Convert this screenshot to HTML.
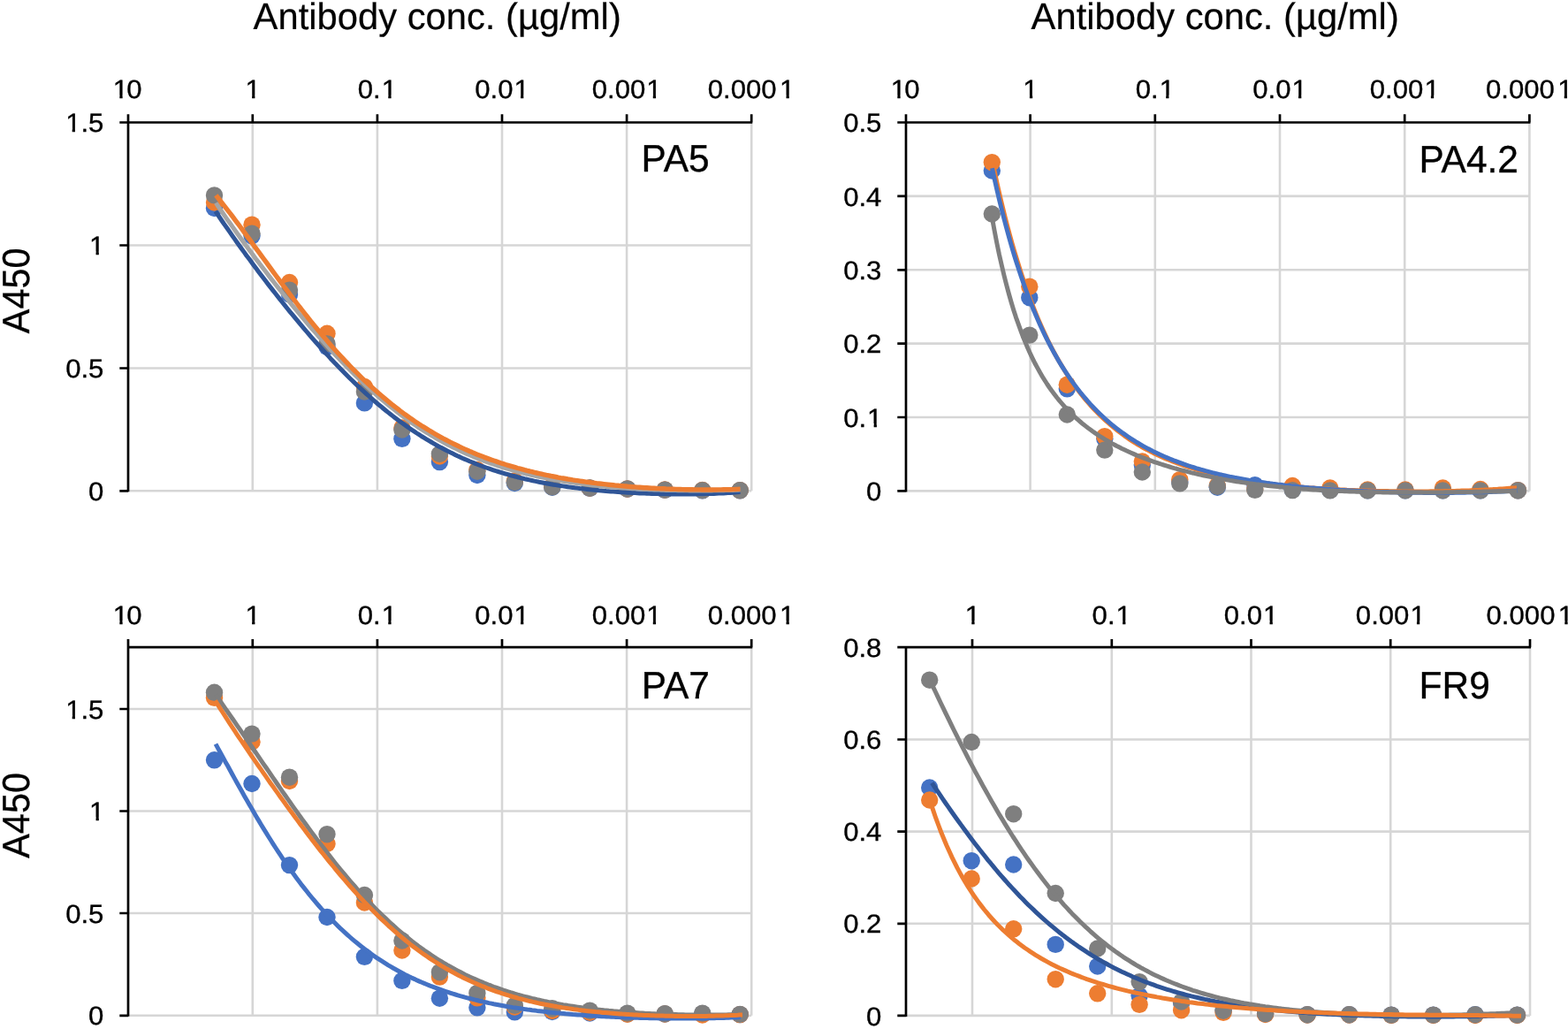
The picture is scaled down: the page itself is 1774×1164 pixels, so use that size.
<!DOCTYPE html>
<html lang="en"><head><meta charset="utf-8"><title>ELISA titration curves</title>
<style>html,body{margin:0;padding:0;background:#fff}body{width:1774px;height:1164px;overflow:hidden}svg{display:block}text{font-family:"Liberation Sans", sans-serif;fill:#000;text-rendering:geometricPrecision}.t{font-size:29.5px;stroke:#000;stroke-width:.35px}.h{font-size:43.2px;stroke:#000;stroke-width:.35px}.g{font-size:42.2px;stroke:#000;stroke-width:.2px}</style></head><body>
<svg width="1774" height="1164" viewBox="0 0 1774 1164">
<rect width="1774" height="1164" fill="#fff"/>
<g>
<path d="M285.8,138.5V555.3M426.9,138.5V555.3M568.0,138.5V555.3M709.1,138.5V555.3M850.2,138.5V555.3M145.0,555.3H850.2M145.0,416.5H850.2M145.0,277.5H850.2" stroke="#D6D6D6" stroke-width="2.6" fill="none"/>
<circle cx="242.5" cy="235.5" r="9.7" fill="#4472C4"/>
<circle cx="285.0" cy="266.8" r="9.7" fill="#4472C4"/>
<circle cx="327.5" cy="332.9" r="9.7" fill="#4472C4"/>
<circle cx="370.0" cy="392.3" r="9.7" fill="#4472C4"/>
<circle cx="412.4" cy="455.9" r="9.7" fill="#4472C4"/>
<circle cx="454.9" cy="496.3" r="9.7" fill="#4472C4"/>
<circle cx="497.4" cy="522.6" r="9.7" fill="#4472C4"/>
<circle cx="539.9" cy="537.5" r="9.7" fill="#4472C4"/>
<circle cx="582.3" cy="546.5" r="9.7" fill="#4472C4"/>
<circle cx="624.8" cy="551.2" r="9.7" fill="#4472C4"/>
<circle cx="667.3" cy="552.3" r="9.7" fill="#4472C4"/>
<circle cx="709.8" cy="553.2" r="9.7" fill="#4472C4"/>
<circle cx="752.2" cy="554.3" r="9.7" fill="#4472C4"/>
<circle cx="794.7" cy="554.8" r="9.7" fill="#4472C4"/>
<circle cx="837.2" cy="554.8" r="9.7" fill="#4472C4"/>
<circle cx="242.5" cy="229.0" r="9.7" fill="#ED7D31"/>
<circle cx="285.0" cy="254.2" r="9.7" fill="#ED7D31"/>
<circle cx="327.5" cy="319.5" r="9.7" fill="#ED7D31"/>
<circle cx="370.0" cy="377.3" r="9.7" fill="#ED7D31"/>
<circle cx="412.4" cy="437.5" r="9.7" fill="#ED7D31"/>
<circle cx="454.9" cy="484.0" r="9.7" fill="#ED7D31"/>
<circle cx="497.4" cy="516.0" r="9.7" fill="#ED7D31"/>
<circle cx="539.9" cy="531.5" r="9.7" fill="#ED7D31"/>
<circle cx="582.3" cy="544.0" r="9.7" fill="#ED7D31"/>
<circle cx="624.8" cy="550.0" r="9.7" fill="#ED7D31"/>
<circle cx="667.3" cy="552.0" r="9.7" fill="#ED7D31"/>
<circle cx="709.8" cy="553.0" r="9.7" fill="#ED7D31"/>
<circle cx="752.2" cy="554.0" r="9.7" fill="#ED7D31"/>
<circle cx="794.7" cy="554.5" r="9.7" fill="#ED7D31"/>
<circle cx="837.2" cy="554.6" r="9.7" fill="#ED7D31"/>
<circle cx="242.5" cy="220.9" r="9.7" fill="#7F7F7F"/>
<circle cx="285.0" cy="264.2" r="9.7" fill="#7F7F7F"/>
<circle cx="327.5" cy="328.1" r="9.7" fill="#7F7F7F"/>
<circle cx="370.0" cy="388.9" r="9.7" fill="#7F7F7F"/>
<circle cx="412.4" cy="443.0" r="9.7" fill="#7F7F7F"/>
<circle cx="454.9" cy="486.0" r="9.7" fill="#7F7F7F"/>
<circle cx="497.4" cy="513.5" r="9.7" fill="#7F7F7F"/>
<circle cx="539.9" cy="533.2" r="9.7" fill="#7F7F7F"/>
<circle cx="582.3" cy="545.5" r="9.7" fill="#7F7F7F"/>
<circle cx="624.8" cy="550.9" r="9.7" fill="#7F7F7F"/>
<circle cx="667.3" cy="552.0" r="9.7" fill="#7F7F7F"/>
<circle cx="709.8" cy="552.9" r="9.7" fill="#7F7F7F"/>
<circle cx="752.2" cy="554.1" r="9.7" fill="#7F7F7F"/>
<circle cx="794.7" cy="554.6" r="9.7" fill="#7F7F7F"/>
<circle cx="837.2" cy="554.6" r="9.7" fill="#7F7F7F"/>
<path d="M243.8,239.0 L246.5,243.0 L249.2,247.0 L251.9,251.0 L254.6,254.9 L257.4,258.8 L260.1,262.7 L262.8,266.6 L265.5,270.4 L268.2,274.2 L270.9,278.0 L273.6,281.7 L276.3,285.4 L279.0,289.2 L281.8,292.8 L284.5,296.5 L287.2,300.2 L289.9,303.8 L292.6,307.4 L295.3,311.0 L298.0,314.5 L300.7,318.1 L303.4,321.6 L306.2,325.1 L308.9,328.6 L311.6,332.0 L314.3,335.5 L317.0,338.9 L319.7,342.3 L322.4,345.6 L325.1,349.0 L327.8,352.3 L330.6,355.6 L333.3,358.9 L336.0,362.2 L338.7,365.4 L341.4,368.6 L344.1,371.8 L346.8,375.0 L349.5,378.2 L352.2,381.3 L354.9,384.4 L357.7,387.5 L360.4,390.5 L363.1,393.5 L365.8,396.5 L368.5,399.5 L371.2,402.4 L373.9,405.4 L376.6,408.2 L379.3,411.1 L382.1,413.9 L384.8,416.7 L387.5,419.5 L390.2,422.3 L392.9,425.0 L395.6,427.7 L398.3,430.3 L401.0,432.9 L403.7,435.5 L406.5,438.1 L409.2,440.6 L411.9,443.1 L414.6,445.6 L417.3,448.0 L420.0,450.4 L422.7,452.8 L425.4,455.2 L428.1,457.5 L430.9,459.7 L433.6,462.0 L436.3,464.2 L439.0,466.4 L441.7,468.5 L444.4,470.6 L447.1,472.7 L449.8,474.8 L452.5,476.8 L455.3,478.8 L458.0,480.7 L460.7,482.6 L463.4,484.5 L466.1,486.4 L468.8,488.2 L471.5,490.0 L474.2,491.7 L476.9,493.5 L479.7,495.2 L482.4,496.8 L485.1,498.4 L487.8,500.0 L490.5,501.6 L493.2,503.2 L495.9,504.7 L498.6,506.1 L501.3,507.6 L504.1,509.0 L506.8,510.4 L509.5,511.8 L512.2,513.1 L514.9,514.4 L517.6,515.7 L520.3,516.9 L523.0,518.2 L525.7,519.4 L528.5,520.5 L531.2,521.7 L533.9,522.8 L536.6,523.9 L539.3,525.0 L542.0,526.0 L544.7,527.0 L547.4,528.0 L550.1,529.0 L552.8,529.9 L555.6,530.9 L558.3,531.8 L561.0,532.7 L563.7,533.5 L566.4,534.3 L569.1,535.2 L571.8,536.0 L574.5,536.7 L577.2,537.5 L580.0,538.2 L582.7,539.0 L585.4,539.7 L588.1,540.3 L590.8,541.0 L593.5,541.7 L596.2,542.3 L598.9,542.9 L601.6,543.5 L604.4,544.1 L607.1,544.6 L609.8,545.2 L612.5,545.7 L615.2,546.2 L617.9,546.8 L620.6,547.2 L623.3,547.7 L626.0,548.2 L628.8,548.6 L631.5,549.1 L634.2,549.5 L636.9,549.9 L639.6,550.3 L642.3,550.7 L645.0,551.1 L647.7,551.4 L650.4,551.8 L653.2,552.1 L655.9,552.5 L658.6,552.8 L661.3,553.1 L664.0,553.4 L666.7,553.7 L669.4,554.0 L672.1,554.2 L674.8,554.5 L677.6,554.8 L680.3,555.0 L683.0,555.2 L685.7,555.5 L688.4,555.7 L691.1,555.9 L693.8,556.1 L696.5,556.3 L699.2,556.5 L702.0,556.7 L704.7,556.8 L707.4,557.0 L710.1,557.2 L712.8,557.3 L715.5,557.5 L718.2,557.6 L720.9,557.7 L723.6,557.9 L726.4,558.0 L729.1,558.1 L731.8,558.2 L734.5,558.3 L737.2,558.4 L739.9,558.5 L742.6,558.5 L745.3,558.6 L748.0,558.7 L750.7,558.7 L753.5,558.8 L756.2,558.8 L758.9,558.9 L761.6,558.9 L764.3,558.9 L767.0,558.9 L769.7,559.0 L772.4,559.0 L775.1,559.0 L777.9,559.0 L780.6,558.9 L783.3,558.9 L786.0,558.9 L788.7,558.8 L791.4,558.8 L794.1,558.8 L796.8,558.7 L799.5,558.6 L802.3,558.5 L805.0,558.5 L807.7,558.4 L810.4,558.3 L813.1,558.1 L815.8,558.0 L818.5,557.9 L821.2,557.7 L823.9,557.6 L826.7,557.4 L829.4,557.2 L832.1,557.0 L834.8,556.8 L837.5,556.6" stroke="#2F5597" stroke-width="5.0" fill="none" stroke-linejoin="round"/>
<path d="M244.3,229.5 L247.0,233.6 L249.7,237.5 L252.4,241.5 L255.1,245.4 L257.8,249.3 L260.6,253.1 L263.3,256.9 L266.0,260.7 L268.7,264.5 L271.4,268.2 L274.1,272.0 L276.8,275.7 L279.5,279.3 L282.2,283.0 L284.9,286.6 L287.6,290.3 L290.3,293.9 L293.1,297.4 L295.8,301.0 L298.5,304.5 L301.2,308.1 L303.9,311.6 L306.6,315.1 L309.3,318.5 L312.0,322.0 L314.7,325.4 L317.4,328.8 L320.1,332.2 L322.9,335.6 L325.6,339.0 L328.3,342.3 L331.0,345.6 L333.7,348.9 L336.4,352.2 L339.1,355.5 L341.8,358.7 L344.5,361.9 L347.2,365.1 L349.9,368.3 L352.6,371.5 L355.4,374.6 L358.1,377.7 L360.8,380.8 L363.5,383.9 L366.2,386.9 L368.9,389.9 L371.6,392.9 L374.3,395.9 L377.0,398.8 L379.7,401.7 L382.4,404.6 L385.2,407.4 L387.9,410.2 L390.6,413.0 L393.3,415.8 L396.0,418.5 L398.7,421.3 L401.4,423.9 L404.1,426.6 L406.8,429.2 L409.5,431.8 L412.2,434.3 L414.9,436.9 L417.7,439.3 L420.4,441.8 L423.1,444.2 L425.8,446.6 L428.5,449.0 L431.2,451.3 L433.9,453.6 L436.6,455.9 L439.3,458.1 L442.0,460.3 L444.7,462.4 L447.5,464.6 L450.2,466.7 L452.9,468.7 L455.6,470.8 L458.3,472.8 L461.0,474.7 L463.7,476.7 L466.4,478.6 L469.1,480.4 L471.8,482.3 L474.5,484.1 L477.2,485.8 L480.0,487.6 L482.7,489.3 L485.4,490.9 L488.1,492.6 L490.8,494.2 L493.5,495.8 L496.2,497.3 L498.9,498.8 L501.6,500.3 L504.3,501.8 L507.0,503.2 L509.8,504.6 L512.5,506.0 L515.2,507.3 L517.9,508.6 L520.6,509.9 L523.3,511.2 L526.0,512.4 L528.7,513.6 L531.4,514.8 L534.1,516.0 L536.8,517.1 L539.5,518.2 L542.3,519.3 L545.0,520.3 L547.7,521.4 L550.4,522.4 L553.1,523.4 L555.8,524.3 L558.5,525.2 L561.2,526.2 L563.9,527.1 L566.6,527.9 L569.3,528.8 L572.0,529.6 L574.8,530.4 L577.5,531.2 L580.2,532.0 L582.9,532.7 L585.6,533.5 L588.3,534.2 L591.0,534.9 L593.7,535.6 L596.4,536.2 L599.1,536.9 L601.8,537.5 L604.6,538.1 L607.3,538.7 L610.0,539.3 L612.7,539.9 L615.4,540.4 L618.1,540.9 L620.8,541.5 L623.5,542.0 L626.2,542.5 L628.9,542.9 L631.6,543.4 L634.3,543.9 L637.1,544.3 L639.8,544.7 L642.5,545.1 L645.2,545.6 L647.9,545.9 L650.6,546.3 L653.3,546.7 L656.0,547.1 L658.7,547.4 L661.4,547.8 L664.1,548.1 L666.9,548.4 L669.6,548.7 L672.3,549.0 L675.0,549.3 L677.7,549.6 L680.4,549.9 L683.1,550.1 L685.8,550.4 L688.5,550.6 L691.2,550.9 L693.9,551.1 L696.6,551.3 L699.4,551.5 L702.1,551.7 L704.8,551.9 L707.5,552.1 L710.2,552.3 L712.9,552.5 L715.6,552.7 L718.3,552.8 L721.0,553.0 L723.7,553.1 L726.4,553.3 L729.2,553.4 L731.9,553.5 L734.6,553.7 L737.3,553.8 L740.0,553.9 L742.7,554.0 L745.4,554.1 L748.1,554.2 L750.8,554.3 L753.5,554.4 L756.2,554.4 L758.9,554.5 L761.7,554.6 L764.4,554.6 L767.1,554.7 L769.8,554.7 L772.5,554.8 L775.2,554.8 L777.9,554.8 L780.6,554.9 L783.3,554.9 L786.0,554.9 L788.7,554.9 L791.5,554.9 L794.2,554.9 L796.9,554.9 L799.6,554.9 L802.3,554.9 L805.0,554.9 L807.7,554.8 L810.4,554.8 L813.1,554.7 L815.8,554.7 L818.5,554.7 L821.2,554.6 L824.0,554.5 L826.7,554.5 L829.4,554.4 L832.1,554.3 L834.8,554.2 L837.5,554.1" stroke="#A5A5A5" stroke-width="5.0" fill="none" stroke-linejoin="round"/>
<path d="M244.3,220.9 L247.0,224.3 L249.7,227.7 L252.4,231.1 L255.1,234.6 L257.8,238.1 L260.6,241.6 L263.3,245.2 L266.0,248.8 L268.7,252.4 L271.4,256.0 L274.1,259.7 L276.8,263.4 L279.5,267.0 L282.2,270.7 L284.9,274.4 L287.6,278.2 L290.3,281.9 L293.1,285.6 L295.8,289.3 L298.5,293.0 L301.2,296.7 L303.9,300.4 L306.6,304.1 L309.3,307.8 L312.0,311.5 L314.7,315.2 L317.4,318.9 L320.1,322.5 L322.9,326.1 L325.6,329.7 L328.3,333.3 L331.0,336.9 L333.7,340.4 L336.4,344.0 L339.1,347.5 L341.8,350.9 L344.5,354.4 L347.2,357.8 L349.9,361.2 L352.6,364.6 L355.4,367.9 L358.1,371.2 L360.8,374.5 L363.5,377.7 L366.2,380.9 L368.9,384.1 L371.6,387.3 L374.3,390.4 L377.0,393.5 L379.7,396.5 L382.4,399.5 L385.2,402.5 L387.9,405.4 L390.6,408.3 L393.3,411.2 L396.0,414.0 L398.7,416.8 L401.4,419.5 L404.1,422.2 L406.8,424.9 L409.5,427.6 L412.2,430.2 L414.9,432.7 L417.7,435.3 L420.4,437.7 L423.1,440.2 L425.8,442.6 L428.5,445.0 L431.2,447.3 L433.9,449.6 L436.6,451.9 L439.3,454.1 L442.0,456.3 L444.7,458.5 L447.5,460.6 L450.2,462.7 L452.9,464.8 L455.6,466.8 L458.3,468.8 L461.0,470.7 L463.7,472.6 L466.4,474.5 L469.1,476.4 L471.8,478.2 L474.5,480.0 L477.2,481.7 L480.0,483.4 L482.7,485.1 L485.4,486.8 L488.1,488.4 L490.8,490.0 L493.5,491.6 L496.2,493.1 L498.9,494.6 L501.6,496.1 L504.3,497.5 L507.0,498.9 L509.8,500.3 L512.5,501.7 L515.2,503.0 L517.9,504.3 L520.6,505.6 L523.3,506.9 L526.0,508.1 L528.7,509.3 L531.4,510.5 L534.1,511.6 L536.8,512.8 L539.5,513.9 L542.3,515.0 L545.0,516.0 L547.7,517.1 L550.4,518.1 L553.1,519.1 L555.8,520.1 L558.5,521.0 L561.2,521.9 L563.9,522.9 L566.6,523.8 L569.3,524.6 L572.0,525.5 L574.8,526.3 L577.5,527.1 L580.2,527.9 L582.9,528.7 L585.6,529.5 L588.3,530.2 L591.0,530.9 L593.7,531.7 L596.4,532.4 L599.1,533.0 L601.8,533.7 L604.6,534.4 L607.3,535.0 L610.0,535.6 L612.7,536.2 L615.4,536.8 L618.1,537.4 L620.8,537.9 L623.5,538.5 L626.2,539.0 L628.9,539.5 L631.6,540.1 L634.3,540.6 L637.1,541.0 L639.8,541.5 L642.5,542.0 L645.2,542.4 L647.9,542.9 L650.6,543.3 L653.3,543.7 L656.0,544.1 L658.7,544.5 L661.4,544.9 L664.1,545.3 L666.9,545.6 L669.6,546.0 L672.3,546.3 L675.0,546.7 L677.7,547.0 L680.4,547.3 L683.1,547.6 L685.8,547.9 L688.5,548.2 L691.2,548.5 L693.9,548.8 L696.6,549.1 L699.4,549.3 L702.1,549.6 L704.8,549.8 L707.5,550.0 L710.2,550.3 L712.9,550.5 L715.6,550.7 L718.3,550.9 L721.0,551.1 L723.7,551.3 L726.4,551.5 L729.2,551.7 L731.9,551.8 L734.6,552.0 L737.3,552.2 L740.0,552.3 L742.7,552.5 L745.4,552.6 L748.1,552.7 L750.8,552.8 L753.5,553.0 L756.2,553.1 L758.9,553.2 L761.7,553.3 L764.4,553.4 L767.1,553.5 L769.8,553.5 L772.5,553.6 L775.2,553.7 L777.9,553.7 L780.6,553.8 L783.3,553.8 L786.0,553.9 L788.7,553.9 L791.5,553.9 L794.2,554.0 L796.9,554.0 L799.6,554.0 L802.3,554.0 L805.0,554.0 L807.7,554.0 L810.4,554.0 L813.1,553.9 L815.8,553.9 L818.5,553.8 L821.2,553.8 L824.0,553.7 L826.7,553.7 L829.4,553.6 L832.1,553.5 L834.8,553.4 L837.5,553.3" stroke="#ED7D31" stroke-width="5.4" fill="none" stroke-linejoin="round"/>
<path d="M145.0,137.5V556.3M144.0,138.5H851.2M145.0,129.2V138.5M285.8,129.2V138.5M426.9,129.2V138.5M568.0,129.2V138.5M709.1,129.2V138.5M850.2,129.2V138.5M135.3,555.3H145.0M135.3,416.5H145.0M135.3,277.5H145.0M135.3,138.5H145.0" stroke="#000" stroke-width="2.7" fill="none"/>
<text class="t" transform="translate(127.19 111.2) scale(1.055 1)" dx="0.57 -1.8">10</text><path d="M127.96,107.70H135.34V113.70H127.96ZM138.64,107.70H145.18V113.70H138.64Z" fill="#fff"/>
<text class="t" transform="translate(276.65 111.2) scale(1.055 1)" dx="0.85">1</text><path d="M277.72,107.70H285.10V113.70H277.72ZM288.40,107.70H294.93V113.70H288.40Z" fill="#fff"/>
<text class="t" transform="translate(404.77 111.2) scale(1.055 1)" dx="0 0 0.95">0.1</text><path d="M431.89,107.70H439.27V113.70H431.89ZM442.58,107.70H449.11V113.70H442.58Z" fill="#fff"/>
<text class="t" transform="translate(537.21 111.2) scale(1.055 1)" dx="0 0 0 0.95">0.01</text><path d="M581.65,107.70H589.03V113.70H581.65ZM592.33,107.70H598.87V113.70H592.33Z" fill="#fff"/>
<text class="t" transform="translate(669.66 111.2) scale(1.055 1)" dx="0 0 0 0 0.95">0.001</text><path d="M731.40,107.70H738.78V113.70H731.40ZM742.08,107.70H748.62V113.70H742.08Z" fill="#fff"/>
<text class="t" transform="translate(800.70 111.2) scale(1.055 1)" dx="0 0 0 0 0 3.22">0.0001</text><path d="M882.15,107.70H889.53V113.70H882.15ZM892.83,107.70H899.37V113.70H892.83Z" fill="#fff"/>
<text class="t" transform="translate(100.09 565.9) scale(1.055 1)">0</text>
<text class="t" transform="translate(74.14 427.1) scale(1.055 1)">0.5</text>
<text class="t" transform="translate(100.09 288.1) scale(1.055 1)" dx="0.85">1</text><path d="M101.16,284.60H108.54V290.60H101.16ZM111.84,284.60H118.38V290.60H111.84Z" fill="#fff"/>
<text class="t" transform="translate(74.14 149.1) scale(1.055 1)">1.5</text><path d="M74.31,145.60H81.69V151.60H74.31ZM84.99,145.60H91.52V151.60H84.99Z" fill="#fff"/>
<text class="h" transform="translate(725.6 194.4) scale(0.983 1)">PA5</text>
<text class="h" transform="translate(32.7 328.8) rotate(-90) scale(0.960 1)" text-anchor="middle">A450</text>
</g>
<g>
<path d="M1165.6,138.5V555.4M1306.8,138.5V555.4M1448.0,138.5V555.4M1589.2,138.5V555.4M1730.4,138.5V555.4M1025.0,555.4H1730.4M1025.0,472.0H1730.4M1025.0,388.6H1730.4M1025.0,305.3H1730.4M1025.0,221.9H1730.4" stroke="#D6D6D6" stroke-width="2.6" fill="none"/>
<circle cx="1122.3" cy="193.0" r="9.7" fill="#4472C4"/>
<circle cx="1164.8" cy="336.7" r="9.7" fill="#4472C4"/>
<circle cx="1207.3" cy="439.8" r="9.7" fill="#4472C4"/>
<circle cx="1249.8" cy="496.2" r="9.7" fill="#4472C4"/>
<circle cx="1292.3" cy="526.0" r="9.7" fill="#4472C4"/>
<circle cx="1334.8" cy="545.0" r="9.7" fill="#4472C4"/>
<circle cx="1377.3" cy="551.2" r="9.7" fill="#4472C4"/>
<circle cx="1419.8" cy="548.6" r="9.7" fill="#4472C4"/>
<circle cx="1462.3" cy="554.0" r="9.7" fill="#4472C4"/>
<circle cx="1504.8" cy="554.5" r="9.7" fill="#4472C4"/>
<circle cx="1547.3" cy="554.7" r="9.7" fill="#4472C4"/>
<circle cx="1589.9" cy="554.7" r="9.7" fill="#4472C4"/>
<circle cx="1632.4" cy="554.7" r="9.7" fill="#4472C4"/>
<circle cx="1674.9" cy="554.7" r="9.7" fill="#4472C4"/>
<circle cx="1717.4" cy="554.7" r="9.7" fill="#4472C4"/>
<circle cx="1122.3" cy="183.6" r="9.7" fill="#ED7D31"/>
<circle cx="1164.8" cy="324.2" r="9.7" fill="#ED7D31"/>
<circle cx="1207.3" cy="435.2" r="9.7" fill="#ED7D31"/>
<circle cx="1249.8" cy="493.6" r="9.7" fill="#ED7D31"/>
<circle cx="1292.3" cy="522.0" r="9.7" fill="#ED7D31"/>
<circle cx="1334.8" cy="542.6" r="9.7" fill="#ED7D31"/>
<circle cx="1377.3" cy="549.0" r="9.7" fill="#ED7D31"/>
<circle cx="1419.8" cy="553.0" r="9.7" fill="#ED7D31"/>
<circle cx="1462.3" cy="549.5" r="9.7" fill="#ED7D31"/>
<circle cx="1504.8" cy="552.0" r="9.7" fill="#ED7D31"/>
<circle cx="1547.3" cy="554.0" r="9.7" fill="#ED7D31"/>
<circle cx="1589.9" cy="554.0" r="9.7" fill="#ED7D31"/>
<circle cx="1632.4" cy="552.0" r="9.7" fill="#ED7D31"/>
<circle cx="1674.9" cy="553.5" r="9.7" fill="#ED7D31"/>
<circle cx="1717.4" cy="554.6" r="9.7" fill="#ED7D31"/>
<circle cx="1122.3" cy="242.0" r="9.7" fill="#7F7F7F"/>
<circle cx="1164.8" cy="379.1" r="9.7" fill="#7F7F7F"/>
<circle cx="1207.3" cy="469.0" r="9.7" fill="#7F7F7F"/>
<circle cx="1249.8" cy="509.1" r="9.7" fill="#7F7F7F"/>
<circle cx="1292.3" cy="534.0" r="9.7" fill="#7F7F7F"/>
<circle cx="1334.8" cy="546.9" r="9.7" fill="#7F7F7F"/>
<circle cx="1377.3" cy="550.3" r="9.7" fill="#7F7F7F"/>
<circle cx="1419.8" cy="554.3" r="9.7" fill="#7F7F7F"/>
<circle cx="1462.3" cy="554.6" r="9.7" fill="#7F7F7F"/>
<circle cx="1504.8" cy="554.9" r="9.7" fill="#7F7F7F"/>
<circle cx="1547.3" cy="554.9" r="9.7" fill="#7F7F7F"/>
<circle cx="1589.9" cy="554.9" r="9.7" fill="#7F7F7F"/>
<circle cx="1632.4" cy="554.9" r="9.7" fill="#7F7F7F"/>
<circle cx="1674.9" cy="554.9" r="9.7" fill="#7F7F7F"/>
<circle cx="1717.4" cy="554.9" r="9.7" fill="#7F7F7F"/>
<path d="M1123.5,185.9 L1126.2,198.7 L1128.9,211.0 L1131.6,222.8 L1134.3,234.1 L1137.0,245.1 L1139.7,255.6 L1142.4,265.7 L1145.1,275.4 L1147.8,284.8 L1150.6,293.8 L1153.3,302.5 L1156.0,310.9 L1158.7,318.9 L1161.4,326.7 L1164.1,334.2 L1166.8,341.4 L1169.5,348.4 L1172.2,355.1 L1174.9,361.6 L1177.6,367.8 L1180.3,373.8 L1183.0,379.6 L1185.7,385.3 L1188.4,390.7 L1191.1,395.9 L1193.8,401.0 L1196.5,405.8 L1199.3,410.6 L1202.0,415.1 L1204.7,419.5 L1207.4,423.8 L1210.1,427.9 L1212.8,431.8 L1215.5,435.7 L1218.2,439.4 L1220.9,443.0 L1223.6,446.5 L1226.3,449.8 L1229.0,453.1 L1231.7,456.2 L1234.4,459.3 L1237.1,462.2 L1239.8,465.1 L1242.5,467.8 L1245.2,470.5 L1248.0,473.1 L1250.7,475.6 L1253.4,478.0 L1256.1,480.4 L1258.8,482.7 L1261.5,484.9 L1264.2,487.0 L1266.9,489.1 L1269.6,491.1 L1272.3,493.1 L1275.0,495.0 L1277.7,496.8 L1280.4,498.6 L1283.1,500.3 L1285.8,502.0 L1288.5,503.6 L1291.2,505.2 L1293.9,506.7 L1296.7,508.2 L1299.4,509.6 L1302.1,511.0 L1304.8,512.4 L1307.5,513.7 L1310.2,515.0 L1312.9,516.2 L1315.6,517.4 L1318.3,518.6 L1321.0,519.7 L1323.7,520.8 L1326.4,521.9 L1329.1,522.9 L1331.8,523.9 L1334.5,524.9 L1337.2,525.9 L1339.9,526.8 L1342.6,527.7 L1345.3,528.6 L1348.1,529.4 L1350.8,530.2 L1353.5,531.0 L1356.2,531.8 L1358.9,532.6 L1361.6,533.3 L1364.3,534.0 L1367.0,534.7 L1369.7,535.4 L1372.4,536.1 L1375.1,536.7 L1377.8,537.3 L1380.5,537.9 L1383.2,538.5 L1385.9,539.1 L1388.6,539.6 L1391.3,540.2 L1394.0,540.7 L1396.8,541.2 L1399.5,541.7 L1402.2,542.2 L1404.9,542.7 L1407.6,543.1 L1410.3,543.6 L1413.0,544.0 L1415.7,544.4 L1418.4,544.8 L1421.1,545.2 L1423.8,545.6 L1426.5,546.0 L1429.2,546.4 L1431.9,546.7 L1434.6,547.1 L1437.3,547.4 L1440.0,547.7 L1442.7,548.1 L1445.5,548.4 L1448.2,548.7 L1450.9,549.0 L1453.6,549.2 L1456.3,549.5 L1459.0,549.8 L1461.7,550.1 L1464.4,550.3 L1467.1,550.5 L1469.8,550.8 L1472.5,551.0 L1475.2,551.2 L1477.9,551.5 L1480.6,551.7 L1483.3,551.9 L1486.0,552.1 L1488.7,552.3 L1491.4,552.5 L1494.2,552.6 L1496.9,552.8 L1499.6,553.0 L1502.3,553.1 L1505.0,553.3 L1507.7,553.4 L1510.4,553.6 L1513.1,553.7 L1515.8,553.9 L1518.5,554.0 L1521.2,554.1 L1523.9,554.3 L1526.6,554.4 L1529.3,554.5 L1532.0,554.6 L1534.7,554.7 L1537.4,554.8 L1540.1,554.9 L1542.8,555.0 L1545.6,555.1 L1548.3,555.1 L1551.0,555.2 L1553.7,555.3 L1556.4,555.4 L1559.1,555.4 L1561.8,555.5 L1564.5,555.5 L1567.2,555.6 L1569.9,555.6 L1572.6,555.7 L1575.3,555.7 L1578.0,555.8 L1580.7,555.8 L1583.4,555.8 L1586.1,555.9 L1588.8,555.9 L1591.5,555.9 L1594.3,555.9 L1597.0,555.9 L1599.7,555.9 L1602.4,555.9 L1605.1,555.9 L1607.8,555.9 L1610.5,555.9 L1613.2,555.9 L1615.9,555.9 L1618.6,555.8 L1621.3,555.8 L1624.0,555.8 L1626.7,555.7 L1629.4,555.7 L1632.1,555.7 L1634.8,555.6 L1637.5,555.6 L1640.2,555.5 L1643.0,555.4 L1645.7,555.4 L1648.4,555.3 L1651.1,555.2 L1653.8,555.1 L1656.5,555.1 L1659.2,555.0 L1661.9,554.9 L1664.6,554.8 L1667.3,554.7 L1670.0,554.5 L1672.7,554.4 L1675.4,554.3 L1678.1,554.2 L1680.8,554.0 L1683.5,553.9 L1686.2,553.7 L1688.9,553.6 L1691.7,553.4 L1694.4,553.3 L1697.1,553.1 L1699.8,552.9 L1702.5,552.7 L1705.2,552.5 L1707.9,552.3 L1710.6,552.1 L1713.3,551.9 L1716.0,551.7" stroke="#ED7D31" stroke-width="5.0" fill="none" stroke-linejoin="round"/>
<path d="M1122.5,190.3 L1125.2,202.8 L1127.9,214.7 L1130.6,226.3 L1133.4,237.3 L1136.1,248.0 L1138.8,258.2 L1141.5,268.1 L1144.2,277.6 L1146.9,286.7 L1149.6,295.5 L1152.4,304.0 L1155.1,312.1 L1157.8,320.0 L1160.5,327.6 L1163.2,334.9 L1165.9,341.9 L1168.6,348.7 L1171.4,355.2 L1174.1,361.6 L1176.8,367.7 L1179.5,373.5 L1182.2,379.2 L1184.9,384.7 L1187.7,390.0 L1190.4,395.1 L1193.1,400.1 L1195.8,404.8 L1198.5,409.4 L1201.2,413.9 L1203.9,418.2 L1206.7,422.4 L1209.4,426.4 L1212.1,430.3 L1214.8,434.1 L1217.5,437.8 L1220.2,441.3 L1222.9,444.7 L1225.7,448.0 L1228.4,451.2 L1231.1,454.3 L1233.8,457.4 L1236.5,460.3 L1239.2,463.1 L1241.9,465.8 L1244.7,468.5 L1247.4,471.0 L1250.1,473.5 L1252.8,476.0 L1255.5,478.3 L1258.2,480.6 L1260.9,482.8 L1263.7,484.9 L1266.4,487.0 L1269.1,489.0 L1271.8,490.9 L1274.5,492.8 L1277.2,494.7 L1279.9,496.5 L1282.7,498.2 L1285.4,499.9 L1288.1,501.5 L1290.8,503.1 L1293.5,504.7 L1296.2,506.1 L1298.9,507.6 L1301.7,509.0 L1304.4,510.4 L1307.1,511.7 L1309.8,513.0 L1312.5,514.3 L1315.2,515.5 L1318.0,516.7 L1320.7,517.9 L1323.4,519.0 L1326.1,520.1 L1328.8,521.2 L1331.5,522.2 L1334.2,523.2 L1337.0,524.2 L1339.7,525.2 L1342.4,526.1 L1345.1,527.0 L1347.8,527.9 L1350.5,528.7 L1353.2,529.6 L1356.0,530.4 L1358.7,531.2 L1361.4,531.9 L1364.1,532.7 L1366.8,533.4 L1369.5,534.1 L1372.2,534.8 L1375.0,535.5 L1377.7,536.1 L1380.4,536.8 L1383.1,537.4 L1385.8,538.0 L1388.5,538.6 L1391.2,539.2 L1394.0,539.7 L1396.7,540.3 L1399.4,540.8 L1402.1,541.3 L1404.8,541.8 L1407.5,542.3 L1410.2,542.8 L1413.0,543.3 L1415.7,543.7 L1418.4,544.1 L1421.1,544.6 L1423.8,545.0 L1426.5,545.4 L1429.3,545.8 L1432.0,546.2 L1434.7,546.6 L1437.4,546.9 L1440.1,547.3 L1442.8,547.6 L1445.5,548.0 L1448.3,548.3 L1451.0,548.6 L1453.7,549.0 L1456.4,549.3 L1459.1,549.6 L1461.8,549.9 L1464.5,550.1 L1467.3,550.4 L1470.0,550.7 L1472.7,550.9 L1475.4,551.2 L1478.1,551.4 L1480.8,551.7 L1483.5,551.9 L1486.3,552.1 L1489.0,552.4 L1491.7,552.6 L1494.4,552.8 L1497.1,553.0 L1499.8,553.2 L1502.5,553.4 L1505.3,553.6 L1508.0,553.7 L1510.7,553.9 L1513.4,554.1 L1516.1,554.3 L1518.8,554.4 L1521.5,554.6 L1524.3,554.7 L1527.0,554.9 L1529.7,555.0 L1532.4,555.2 L1535.1,555.3 L1537.8,555.4 L1540.6,555.5 L1543.3,555.7 L1546.0,555.8 L1548.7,555.9 L1551.4,556.0 L1554.1,556.1 L1556.8,556.2 L1559.6,556.3 L1562.3,556.4 L1565.0,556.5 L1567.7,556.5 L1570.4,556.6 L1573.1,556.7 L1575.8,556.8 L1578.6,556.8 L1581.3,556.9 L1584.0,557.0 L1586.7,557.0 L1589.4,557.1 L1592.1,557.1 L1594.8,557.2 L1597.6,557.2 L1600.3,557.2 L1603.0,557.3 L1605.7,557.3 L1608.4,557.3 L1611.1,557.4 L1613.8,557.4 L1616.6,557.4 L1619.3,557.4 L1622.0,557.4 L1624.7,557.4 L1627.4,557.4 L1630.1,557.4 L1632.8,557.4 L1635.6,557.4 L1638.3,557.4 L1641.0,557.4 L1643.7,557.4 L1646.4,557.3 L1649.1,557.3 L1651.8,557.3 L1654.6,557.2 L1657.3,557.2 L1660.0,557.1 L1662.7,557.1 L1665.4,557.0 L1668.1,557.0 L1670.9,556.9 L1673.6,556.8 L1676.3,556.8 L1679.0,556.7 L1681.7,556.6 L1684.4,556.5 L1687.1,556.4 L1689.9,556.3 L1692.6,556.2 L1695.3,556.1 L1698.0,556.0 L1700.7,555.9 L1703.4,555.8 L1706.1,555.6 L1708.9,555.5 L1711.6,555.3 L1714.3,555.2 L1717.0,555.0" stroke="#4472C4" stroke-width="5.0" fill="none" stroke-linejoin="round"/>
<path d="M1122.3,245.5 L1125.0,260.4 L1127.7,274.4 L1130.4,287.5 L1133.2,299.7 L1135.9,311.2 L1138.6,321.9 L1141.3,332.0 L1144.0,341.5 L1146.7,350.4 L1149.4,358.8 L1152.2,366.7 L1154.9,374.2 L1157.6,381.3 L1160.3,387.9 L1163.0,394.3 L1165.7,400.2 L1168.4,405.9 L1171.1,411.3 L1173.9,416.4 L1176.6,421.3 L1179.3,425.9 L1182.0,430.3 L1184.7,434.5 L1187.4,438.5 L1190.1,442.3 L1192.9,446.0 L1195.6,449.5 L1198.3,452.8 L1201.0,456.0 L1203.7,459.1 L1206.4,462.1 L1209.1,464.9 L1211.9,467.6 L1214.6,470.2 L1217.3,472.8 L1220.0,475.2 L1222.7,477.5 L1225.4,479.8 L1228.1,481.9 L1230.8,484.0 L1233.6,486.0 L1236.3,488.0 L1239.0,489.9 L1241.7,491.7 L1244.4,493.5 L1247.1,495.2 L1249.8,496.9 L1252.6,498.5 L1255.3,500.0 L1258.0,501.6 L1260.7,503.0 L1263.4,504.5 L1266.1,505.8 L1268.8,507.2 L1271.6,508.5 L1274.3,509.8 L1277.0,511.0 L1279.7,512.2 L1282.4,513.4 L1285.1,514.6 L1287.8,515.7 L1290.5,516.8 L1293.3,517.9 L1296.0,518.9 L1298.7,519.9 L1301.4,520.9 L1304.1,521.9 L1306.8,522.8 L1309.5,523.7 L1312.3,524.6 L1315.0,525.5 L1317.7,526.3 L1320.4,527.2 L1323.1,528.0 L1325.8,528.8 L1328.5,529.6 L1331.3,530.3 L1334.0,531.1 L1336.7,531.8 L1339.4,532.5 L1342.1,533.2 L1344.8,533.9 L1347.5,534.6 L1350.3,535.2 L1353.0,535.9 L1355.7,536.5 L1358.4,537.1 L1361.1,537.7 L1363.8,538.3 L1366.5,538.8 L1369.2,539.4 L1372.0,539.9 L1374.7,540.4 L1377.4,541.0 L1380.1,541.5 L1382.8,542.0 L1385.5,542.4 L1388.2,542.9 L1391.0,543.4 L1393.7,543.8 L1396.4,544.3 L1399.1,544.7 L1401.8,545.1 L1404.5,545.5 L1407.2,545.9 L1410.0,546.3 L1412.7,546.7 L1415.4,547.1 L1418.1,547.4 L1420.8,547.8 L1423.5,548.1 L1426.2,548.4 L1428.9,548.8 L1431.7,549.1 L1434.4,549.4 L1437.1,549.7 L1439.8,550.0 L1442.5,550.3 L1445.2,550.6 L1447.9,550.8 L1450.7,551.1 L1453.4,551.4 L1456.1,551.6 L1458.8,551.8 L1461.5,552.1 L1464.2,552.3 L1466.9,552.5 L1469.7,552.7 L1472.4,553.0 L1475.1,553.2 L1477.8,553.3 L1480.5,553.5 L1483.2,553.7 L1485.9,553.9 L1488.6,554.1 L1491.4,554.2 L1494.1,554.4 L1496.8,554.6 L1499.5,554.7 L1502.2,554.9 L1504.9,555.0 L1507.6,555.1 L1510.4,555.3 L1513.1,555.4 L1515.8,555.5 L1518.5,555.6 L1521.2,555.7 L1523.9,555.8 L1526.6,555.9 L1529.4,556.0 L1532.1,556.1 L1534.8,556.2 L1537.5,556.3 L1540.2,556.4 L1542.9,556.4 L1545.6,556.5 L1548.4,556.6 L1551.1,556.6 L1553.8,556.7 L1556.5,556.7 L1559.2,556.8 L1561.9,556.8 L1564.6,556.9 L1567.3,556.9 L1570.1,556.9 L1572.8,557.0 L1575.5,557.0 L1578.2,557.0 L1580.9,557.0 L1583.6,557.1 L1586.3,557.1 L1589.1,557.1 L1591.8,557.1 L1594.5,557.1 L1597.2,557.1 L1599.9,557.1 L1602.6,557.1 L1605.3,557.1 L1608.1,557.1 L1610.8,557.1 L1613.5,557.0 L1616.2,557.0 L1618.9,557.0 L1621.6,557.0 L1624.3,557.0 L1627.0,556.9 L1629.8,556.9 L1632.5,556.9 L1635.2,556.8 L1637.9,556.8 L1640.6,556.8 L1643.3,556.7 L1646.0,556.7 L1648.8,556.6 L1651.5,556.6 L1654.2,556.5 L1656.9,556.5 L1659.6,556.5 L1662.3,556.4 L1665.0,556.4 L1667.8,556.3 L1670.5,556.3 L1673.2,556.2 L1675.9,556.2 L1678.6,556.1 L1681.3,556.1 L1684.0,556.1 L1686.7,556.0 L1689.5,556.0 L1692.2,555.9 L1694.9,555.9 L1697.6,555.9 L1700.3,555.8 L1703.0,555.8 L1705.7,555.8 L1708.5,555.8 L1711.2,555.8 L1713.9,555.8 L1716.6,555.8" stroke="#7F7F7F" stroke-width="5.0" fill="none" stroke-linejoin="round"/>
<path d="M1025.0,137.5V556.4M1024.0,138.5H1731.4M1025.0,129.2V138.5M1165.6,129.2V138.5M1306.8,129.2V138.5M1448.0,129.2V138.5M1589.2,129.2V138.5M1730.4,129.2V138.5M1015.3,555.4H1025.0M1015.3,472.0H1025.0M1015.3,388.6H1025.0M1015.3,305.3H1025.0M1015.3,221.9H1025.0M1015.3,138.5H1025.0" stroke="#000" stroke-width="2.7" fill="none"/>
<text class="t" transform="translate(1007.19 111.2) scale(1.055 1)" dx="0.57 -1.8">10</text><path d="M1007.96,107.70H1015.34V113.70H1007.96ZM1018.64,107.70H1025.18V113.70H1018.64Z" fill="#fff"/>
<text class="t" transform="translate(1156.45 111.2) scale(1.055 1)" dx="0.85">1</text><path d="M1157.52,107.70H1164.90V113.70H1157.52ZM1168.20,107.70H1174.73V113.70H1168.20Z" fill="#fff"/>
<text class="t" transform="translate(1284.67 111.2) scale(1.055 1)" dx="0 0 0.95">0.1</text><path d="M1311.79,107.70H1319.17V113.70H1311.79ZM1322.48,107.70H1329.01V113.70H1322.48Z" fill="#fff"/>
<text class="t" transform="translate(1417.21 111.2) scale(1.055 1)" dx="0 0 0 0.95">0.01</text><path d="M1461.65,107.70H1469.03V113.70H1461.65ZM1472.33,107.70H1478.87V113.70H1472.33Z" fill="#fff"/>
<text class="t" transform="translate(1549.76 111.2) scale(1.055 1)" dx="0 0 0 0 0.95">0.001</text><path d="M1611.50,107.70H1618.88V113.70H1611.50ZM1622.18,107.70H1628.72V113.70H1622.18Z" fill="#fff"/>
<text class="t" transform="translate(1680.90 111.2) scale(1.055 1)" dx="0 0 0 0 0 3.22">0.0001</text><path d="M1762.35,107.70H1769.73V113.70H1762.35ZM1773.03,107.70H1779.57V113.70H1773.03Z" fill="#fff"/>
<text class="t" transform="translate(980.09 566.0) scale(1.055 1)">0</text>
<text class="t" transform="translate(954.14 482.6) scale(1.055 1)" dx="0 0 0.95">0.1</text><path d="M981.26,479.10H988.64V485.10H981.26ZM991.94,479.10H998.48V485.10H991.94Z" fill="#fff"/>
<text class="t" transform="translate(954.14 399.2) scale(1.055 1)">0.2</text>
<text class="t" transform="translate(954.14 315.9) scale(1.055 1)">0.3</text>
<text class="t" transform="translate(954.14 232.5) scale(1.055 1)">0.4</text>
<text class="t" transform="translate(954.14 149.1) scale(1.055 1)">0.5</text>
<text class="h" transform="translate(1605.4 194.8) scale(0.983 1)">PA4.2</text>
</g>
<g>
<path d="M285.8,732.2V1148.8M426.9,732.2V1148.8M568.0,732.2V1148.8M709.1,732.2V1148.8M850.2,732.2V1148.8M145.0,1148.8H850.2M145.0,1033.0H850.2M145.0,917.5H850.2M145.0,802.0H850.2" stroke="#D6D6D6" stroke-width="2.6" fill="none"/>
<circle cx="242.5" cy="859.8" r="9.7" fill="#4472C4"/>
<circle cx="285.0" cy="886.5" r="9.7" fill="#4472C4"/>
<circle cx="327.5" cy="978.6" r="9.7" fill="#4472C4"/>
<circle cx="370.0" cy="1037.5" r="9.7" fill="#4472C4"/>
<circle cx="412.4" cy="1082.3" r="9.7" fill="#4472C4"/>
<circle cx="454.9" cy="1109.4" r="9.7" fill="#4472C4"/>
<circle cx="497.4" cy="1129.2" r="9.7" fill="#4472C4"/>
<circle cx="539.9" cy="1139.8" r="9.7" fill="#4472C4"/>
<circle cx="582.3" cy="1144.9" r="9.7" fill="#4472C4"/>
<circle cx="624.8" cy="1144.5" r="9.7" fill="#4472C4"/>
<circle cx="667.3" cy="1146.0" r="9.7" fill="#4472C4"/>
<circle cx="709.8" cy="1146.8" r="9.7" fill="#4472C4"/>
<circle cx="752.2" cy="1147.0" r="9.7" fill="#4472C4"/>
<circle cx="794.7" cy="1146.8" r="9.7" fill="#4472C4"/>
<circle cx="837.2" cy="1147.6" r="9.7" fill="#4472C4"/>
<circle cx="242.5" cy="789.3" r="9.7" fill="#ED7D31"/>
<circle cx="285.0" cy="839.2" r="9.7" fill="#ED7D31"/>
<circle cx="327.5" cy="883.5" r="9.7" fill="#ED7D31"/>
<circle cx="370.0" cy="954.5" r="9.7" fill="#ED7D31"/>
<circle cx="412.4" cy="1021.0" r="9.7" fill="#ED7D31"/>
<circle cx="454.9" cy="1075.0" r="9.7" fill="#ED7D31"/>
<circle cx="497.4" cy="1105.1" r="9.7" fill="#ED7D31"/>
<circle cx="539.9" cy="1128.8" r="9.7" fill="#ED7D31"/>
<circle cx="582.3" cy="1139.0" r="9.7" fill="#ED7D31"/>
<circle cx="624.8" cy="1143.5" r="9.7" fill="#ED7D31"/>
<circle cx="667.3" cy="1145.2" r="9.7" fill="#ED7D31"/>
<circle cx="709.8" cy="1147.2" r="9.7" fill="#ED7D31"/>
<circle cx="752.2" cy="1147.0" r="9.7" fill="#ED7D31"/>
<circle cx="794.7" cy="1148.0" r="9.7" fill="#ED7D31"/>
<circle cx="837.2" cy="1147.6" r="9.7" fill="#ED7D31"/>
<circle cx="242.5" cy="783.3" r="9.7" fill="#7F7F7F"/>
<circle cx="285.0" cy="830.1" r="9.7" fill="#7F7F7F"/>
<circle cx="327.5" cy="879.2" r="9.7" fill="#7F7F7F"/>
<circle cx="370.0" cy="943.7" r="9.7" fill="#7F7F7F"/>
<circle cx="412.4" cy="1012.5" r="9.7" fill="#7F7F7F"/>
<circle cx="454.9" cy="1064.0" r="9.7" fill="#7F7F7F"/>
<circle cx="497.4" cy="1099.7" r="9.7" fill="#7F7F7F"/>
<circle cx="539.9" cy="1123.4" r="9.7" fill="#7F7F7F"/>
<circle cx="582.3" cy="1137.3" r="9.7" fill="#7F7F7F"/>
<circle cx="624.8" cy="1140.7" r="9.7" fill="#7F7F7F"/>
<circle cx="667.3" cy="1143.2" r="9.7" fill="#7F7F7F"/>
<circle cx="709.8" cy="1146.1" r="9.7" fill="#7F7F7F"/>
<circle cx="752.2" cy="1146.6" r="9.7" fill="#7F7F7F"/>
<circle cx="794.7" cy="1146.1" r="9.7" fill="#7F7F7F"/>
<circle cx="837.2" cy="1147.4" r="9.7" fill="#7F7F7F"/>
<path d="M244.0,785.8 L246.7,789.6 L249.4,793.5 L252.1,797.4 L254.8,801.3 L257.6,805.2 L260.3,809.1 L263.0,813.0 L265.7,816.9 L268.4,820.8 L271.1,824.7 L273.8,828.7 L276.5,832.6 L279.3,836.6 L282.0,840.5 L284.7,844.5 L287.4,848.5 L290.1,852.4 L292.8,856.4 L295.5,860.3 L298.2,864.3 L301.0,868.3 L303.7,872.2 L306.4,876.2 L309.1,880.1 L311.8,884.0 L314.5,888.0 L317.2,891.9 L319.9,895.8 L322.7,899.7 L325.4,903.6 L328.1,907.4 L330.8,911.3 L333.5,915.1 L336.2,918.9 L338.9,922.7 L341.6,926.5 L344.4,930.2 L347.1,934.0 L349.8,937.7 L352.5,941.4 L355.2,945.0 L357.9,948.7 L360.6,952.3 L363.3,955.8 L366.1,959.4 L368.8,962.9 L371.5,966.4 L374.2,969.9 L376.9,973.3 L379.6,976.7 L382.3,980.0 L385.0,983.4 L387.8,986.6 L390.5,989.9 L393.2,993.1 L395.9,996.3 L398.6,999.4 L401.3,1002.5 L404.0,1005.6 L406.7,1008.6 L409.5,1011.6 L412.2,1014.5 L414.9,1017.5 L417.6,1020.3 L420.3,1023.1 L423.0,1025.9 L425.7,1028.7 L428.4,1031.4 L431.2,1034.0 L433.9,1036.7 L436.6,1039.2 L439.3,1041.8 L442.0,1044.3 L444.7,1046.7 L447.4,1049.1 L450.1,1051.5 L452.8,1053.8 L455.6,1056.1 L458.3,1058.4 L461.0,1060.6 L463.7,1062.8 L466.4,1064.9 L469.1,1067.0 L471.8,1069.0 L474.5,1071.1 L477.3,1073.0 L480.0,1075.0 L482.7,1076.9 L485.4,1078.7 L488.1,1080.5 L490.8,1082.3 L493.5,1084.1 L496.2,1085.8 L499.0,1087.5 L501.7,1089.1 L504.4,1090.7 L507.1,1092.3 L509.8,1093.8 L512.5,1095.3 L515.2,1096.8 L517.9,1098.2 L520.7,1099.6 L523.4,1101.0 L526.1,1102.4 L528.8,1103.7 L531.5,1105.0 L534.2,1106.2 L536.9,1107.4 L539.6,1108.6 L542.4,1109.8 L545.1,1110.9 L547.8,1112.1 L550.5,1113.1 L553.2,1114.2 L555.9,1115.2 L558.6,1116.3 L561.3,1117.2 L564.1,1118.2 L566.8,1119.1 L569.5,1120.1 L572.2,1120.9 L574.9,1121.8 L577.6,1122.7 L580.3,1123.5 L583.0,1124.3 L585.8,1125.1 L588.5,1125.8 L591.2,1126.6 L593.9,1127.3 L596.6,1128.0 L599.3,1128.7 L602.0,1129.4 L604.7,1130.0 L607.5,1130.7 L610.2,1131.3 L612.9,1131.9 L615.6,1132.5 L618.3,1133.0 L621.0,1133.6 L623.7,1134.1 L626.4,1134.6 L629.2,1135.1 L631.9,1135.6 L634.6,1136.1 L637.3,1136.6 L640.0,1137.0 L642.7,1137.5 L645.4,1137.9 L648.1,1138.3 L650.8,1138.7 L653.6,1139.1 L656.3,1139.5 L659.0,1139.9 L661.7,1140.2 L664.4,1140.6 L667.1,1140.9 L669.8,1141.3 L672.5,1141.6 L675.3,1141.9 L678.0,1142.2 L680.7,1142.5 L683.4,1142.8 L686.1,1143.0 L688.8,1143.3 L691.5,1143.5 L694.2,1143.8 L697.0,1144.0 L699.7,1144.2 L702.4,1144.5 L705.1,1144.7 L707.8,1144.9 L710.5,1145.1 L713.2,1145.3 L715.9,1145.5 L718.7,1145.6 L721.4,1145.8 L724.1,1146.0 L726.8,1146.1 L729.5,1146.3 L732.2,1146.4 L734.9,1146.5 L737.6,1146.7 L740.4,1146.8 L743.1,1146.9 L745.8,1147.0 L748.5,1147.1 L751.2,1147.2 L753.9,1147.3 L756.6,1147.4 L759.3,1147.5 L762.1,1147.6 L764.8,1147.6 L767.5,1147.7 L770.2,1147.8 L772.9,1147.8 L775.6,1147.9 L778.3,1147.9 L781.0,1148.0 L783.8,1148.0 L786.5,1148.0 L789.2,1148.0 L791.9,1148.1 L794.6,1148.1 L797.3,1148.1 L800.0,1148.1 L802.7,1148.1 L805.5,1148.1 L808.2,1148.0 L810.9,1148.0 L813.6,1148.0 L816.3,1148.0 L819.0,1147.9 L821.7,1147.9 L824.4,1147.8 L827.2,1147.8 L829.9,1147.7 L832.6,1147.7 L835.3,1147.6 L838.0,1147.5" stroke="#7F7F7F" stroke-width="5.0" fill="none" stroke-linejoin="round"/>
<path d="M244.0,841.6 L246.7,846.6 L249.4,851.5 L252.1,856.4 L254.8,861.4 L257.6,866.3 L260.3,871.3 L263.0,876.2 L265.7,881.1 L268.4,886.0 L271.1,890.8 L273.8,895.6 L276.5,900.4 L279.3,905.2 L282.0,909.9 L284.7,914.6 L287.4,919.3 L290.1,923.9 L292.8,928.4 L295.5,933.0 L298.2,937.4 L301.0,941.8 L303.7,946.2 L306.4,950.5 L309.1,954.8 L311.8,959.0 L314.5,963.1 L317.2,967.2 L319.9,971.3 L322.7,975.2 L325.4,979.1 L328.1,983.0 L330.8,986.8 L333.5,990.5 L336.2,994.2 L338.9,997.8 L341.6,1001.4 L344.4,1004.9 L347.1,1008.3 L349.8,1011.7 L352.5,1015.0 L355.2,1018.2 L357.9,1021.4 L360.6,1024.5 L363.3,1027.6 L366.1,1030.6 L368.8,1033.6 L371.5,1036.5 L374.2,1039.3 L376.9,1042.1 L379.6,1044.8 L382.3,1047.5 L385.0,1050.1 L387.8,1052.6 L390.5,1055.1 L393.2,1057.6 L395.9,1060.0 L398.6,1062.3 L401.3,1064.6 L404.0,1066.8 L406.7,1069.0 L409.5,1071.2 L412.2,1073.3 L414.9,1075.3 L417.6,1077.3 L420.3,1079.3 L423.0,1081.2 L425.7,1083.1 L428.4,1084.9 L431.2,1086.7 L433.9,1088.4 L436.6,1090.1 L439.3,1091.8 L442.0,1093.4 L444.7,1095.0 L447.4,1096.5 L450.1,1098.0 L452.8,1099.5 L455.6,1101.0 L458.3,1102.4 L461.0,1103.7 L463.7,1105.1 L466.4,1106.4 L469.1,1107.6 L471.8,1108.9 L474.5,1110.1 L477.3,1111.3 L480.0,1112.4 L482.7,1113.5 L485.4,1114.6 L488.1,1115.7 L490.8,1116.7 L493.5,1117.7 L496.2,1118.7 L499.0,1119.7 L501.7,1120.6 L504.4,1121.5 L507.1,1122.4 L509.8,1123.3 L512.5,1124.2 L515.2,1125.0 L517.9,1125.8 L520.7,1126.6 L523.4,1127.3 L526.1,1128.1 L528.8,1128.8 L531.5,1129.5 L534.2,1130.2 L536.9,1130.9 L539.6,1131.5 L542.4,1132.2 L545.1,1132.8 L547.8,1133.4 L550.5,1134.0 L553.2,1134.6 L555.9,1135.1 L558.6,1135.7 L561.3,1136.2 L564.1,1136.7 L566.8,1137.2 L569.5,1137.7 L572.2,1138.2 L574.9,1138.7 L577.6,1139.1 L580.3,1139.6 L583.0,1140.0 L585.8,1140.4 L588.5,1140.8 L591.2,1141.2 L593.9,1141.6 L596.6,1142.0 L599.3,1142.3 L602.0,1142.7 L604.7,1143.0 L607.5,1143.4 L610.2,1143.7 L612.9,1144.0 L615.6,1144.3 L618.3,1144.6 L621.0,1144.9 L623.7,1145.2 L626.4,1145.5 L629.2,1145.8 L631.9,1146.0 L634.6,1146.3 L637.3,1146.5 L640.0,1146.8 L642.7,1147.0 L645.4,1147.2 L648.1,1147.5 L650.8,1147.7 L653.6,1147.9 L656.3,1148.1 L659.0,1148.3 L661.7,1148.5 L664.4,1148.7 L667.1,1148.8 L669.8,1149.0 L672.5,1149.2 L675.3,1149.3 L678.0,1149.5 L680.7,1149.7 L683.4,1149.8 L686.1,1149.9 L688.8,1150.1 L691.5,1150.2 L694.2,1150.3 L697.0,1150.5 L699.7,1150.6 L702.4,1150.7 L705.1,1150.8 L707.8,1150.9 L710.5,1151.0 L713.2,1151.1 L715.9,1151.2 L718.7,1151.3 L721.4,1151.3 L724.1,1151.4 L726.8,1151.5 L729.5,1151.6 L732.2,1151.6 L734.9,1151.7 L737.6,1151.7 L740.4,1151.8 L743.1,1151.8 L745.8,1151.9 L748.5,1151.9 L751.2,1152.0 L753.9,1152.0 L756.6,1152.0 L759.3,1152.0 L762.1,1152.1 L764.8,1152.1 L767.5,1152.1 L770.2,1152.1 L772.9,1152.1 L775.6,1152.1 L778.3,1152.1 L781.0,1152.1 L783.8,1152.1 L786.5,1152.0 L789.2,1152.0 L791.9,1152.0 L794.6,1152.0 L797.3,1151.9 L800.0,1151.9 L802.7,1151.8 L805.5,1151.8 L808.2,1151.7 L810.9,1151.6 L813.6,1151.6 L816.3,1151.5 L819.0,1151.4 L821.7,1151.3 L824.4,1151.2 L827.2,1151.1 L829.9,1151.0 L832.6,1150.9 L835.3,1150.8 L838.0,1150.6" stroke="#4472C4" stroke-width="5.0" fill="none" stroke-linejoin="round"/>
<path d="M243.5,792.5 L246.2,796.9 L248.9,801.2 L251.7,805.5 L254.4,809.7 L257.1,813.9 L259.8,818.1 L262.6,822.3 L265.3,826.4 L268.0,830.5 L270.7,834.6 L273.5,838.6 L276.2,842.7 L278.9,846.7 L281.6,850.7 L284.4,854.7 L287.1,858.6 L289.8,862.6 L292.5,866.5 L295.3,870.4 L298.0,874.3 L300.7,878.2 L303.4,882.1 L306.1,886.0 L308.9,889.8 L311.6,893.6 L314.3,897.4 L317.0,901.2 L319.8,905.0 L322.5,908.8 L325.2,912.6 L327.9,916.3 L330.7,920.0 L333.4,923.7 L336.1,927.4 L338.8,931.1 L341.6,934.7 L344.3,938.3 L347.0,941.9 L349.7,945.5 L352.4,949.1 L355.2,952.6 L357.9,956.1 L360.6,959.6 L363.3,963.1 L366.1,966.5 L368.8,970.0 L371.5,973.3 L374.2,976.7 L377.0,980.0 L379.7,983.3 L382.4,986.6 L385.1,989.8 L387.9,993.0 L390.6,996.2 L393.3,999.4 L396.0,1002.5 L398.8,1005.5 L401.5,1008.6 L404.2,1011.6 L406.9,1014.6 L409.6,1017.5 L412.4,1020.4 L415.1,1023.2 L417.8,1026.1 L420.5,1028.8 L423.3,1031.6 L426.0,1034.3 L428.7,1037.0 L431.4,1039.6 L434.2,1042.2 L436.9,1044.7 L439.6,1047.3 L442.3,1049.7 L445.1,1052.2 L447.8,1054.5 L450.5,1056.9 L453.2,1059.2 L456.0,1061.5 L458.7,1063.7 L461.4,1065.9 L464.1,1068.1 L466.8,1070.2 L469.6,1072.3 L472.3,1074.3 L475.0,1076.3 L477.7,1078.2 L480.5,1080.2 L483.2,1082.0 L485.9,1083.9 L488.6,1085.7 L491.4,1087.5 L494.1,1089.2 L496.8,1090.9 L499.5,1092.6 L502.3,1094.2 L505.0,1095.8 L507.7,1097.3 L510.4,1098.8 L513.2,1100.3 L515.9,1101.8 L518.6,1103.2 L521.3,1104.6 L524.0,1105.9 L526.8,1107.3 L529.5,1108.5 L532.2,1109.8 L534.9,1111.0 L537.7,1112.2 L540.4,1113.4 L543.1,1114.5 L545.8,1115.7 L548.6,1116.7 L551.3,1117.8 L554.0,1118.8 L556.7,1119.8 L559.5,1120.8 L562.2,1121.8 L564.9,1122.7 L567.6,1123.6 L570.3,1124.5 L573.1,1125.3 L575.8,1126.2 L578.5,1127.0 L581.2,1127.8 L584.0,1128.5 L586.7,1129.3 L589.4,1130.0 L592.1,1130.7 L594.9,1131.4 L597.6,1132.1 L600.3,1132.7 L603.0,1133.4 L605.8,1134.0 L608.5,1134.6 L611.2,1135.2 L613.9,1135.7 L616.7,1136.3 L619.4,1136.8 L622.1,1137.3 L624.8,1137.8 L627.5,1138.3 L630.3,1138.8 L633.0,1139.2 L635.7,1139.7 L638.4,1140.1 L641.2,1140.5 L643.9,1140.9 L646.6,1141.3 L649.3,1141.7 L652.1,1142.0 L654.8,1142.4 L657.5,1142.7 L660.2,1143.1 L663.0,1143.4 L665.7,1143.7 L668.4,1144.0 L671.1,1144.3 L673.9,1144.6 L676.6,1144.8 L679.3,1145.1 L682.0,1145.4 L684.7,1145.6 L687.5,1145.8 L690.2,1146.1 L692.9,1146.3 L695.6,1146.5 L698.4,1146.7 L701.1,1146.9 L703.8,1147.1 L706.5,1147.2 L709.3,1147.4 L712.0,1147.6 L714.7,1147.7 L717.4,1147.9 L720.2,1148.0 L722.9,1148.2 L725.6,1148.3 L728.3,1148.4 L731.1,1148.5 L733.8,1148.6 L736.5,1148.7 L739.2,1148.8 L741.9,1148.9 L744.7,1149.0 L747.4,1149.1 L750.1,1149.1 L752.8,1149.2 L755.6,1149.2 L758.3,1149.3 L761.0,1149.3 L763.7,1149.4 L766.5,1149.4 L769.2,1149.4 L771.9,1149.5 L774.6,1149.5 L777.4,1149.5 L780.1,1149.5 L782.8,1149.5 L785.5,1149.5 L788.2,1149.5 L791.0,1149.4 L793.7,1149.4 L796.4,1149.4 L799.1,1149.4 L801.9,1149.3 L804.6,1149.3 L807.3,1149.2 L810.0,1149.1 L812.8,1149.1 L815.5,1149.0 L818.2,1148.9 L820.9,1148.8 L823.7,1148.7 L826.4,1148.6 L829.1,1148.5 L831.8,1148.4 L834.6,1148.3 L837.3,1148.1 L840.0,1148.0" stroke="#ED7D31" stroke-width="5.0" fill="none" stroke-linejoin="round"/>
<path d="M145.0,731.2V1149.8M144.0,732.2H851.2M145.0,722.9V732.2M285.8,722.9V732.2M426.9,722.9V732.2M568.0,722.9V732.2M709.1,722.9V732.2M850.2,722.9V732.2M135.3,1148.8H145.0M135.3,1033.0H145.0M135.3,917.5H145.0M135.3,802.0H145.0" stroke="#000" stroke-width="2.7" fill="none"/>
<text class="t" transform="translate(127.19 705.7) scale(1.055 1)" dx="0.57 -1.8">10</text><path d="M127.96,702.20H135.34V708.20H127.96ZM138.64,702.20H145.18V708.20H138.64Z" fill="#fff"/>
<text class="t" transform="translate(276.65 705.7) scale(1.055 1)" dx="0.85">1</text><path d="M277.72,702.20H285.10V708.20H277.72ZM288.40,702.20H294.93V708.20H288.40Z" fill="#fff"/>
<text class="t" transform="translate(404.77 705.7) scale(1.055 1)" dx="0 0 0.95">0.1</text><path d="M431.89,702.20H439.27V708.20H431.89ZM442.58,702.20H449.11V708.20H442.58Z" fill="#fff"/>
<text class="t" transform="translate(537.21 705.7) scale(1.055 1)" dx="0 0 0 0.95">0.01</text><path d="M581.65,702.20H589.03V708.20H581.65ZM592.33,702.20H598.87V708.20H592.33Z" fill="#fff"/>
<text class="t" transform="translate(669.66 705.7) scale(1.055 1)" dx="0 0 0 0 0.95">0.001</text><path d="M731.40,702.20H738.78V708.20H731.40ZM742.08,702.20H748.62V708.20H742.08Z" fill="#fff"/>
<text class="t" transform="translate(800.70 705.7) scale(1.055 1)" dx="0 0 0 0 0 3.22">0.0001</text><path d="M882.15,702.20H889.53V708.20H882.15ZM892.83,702.20H899.37V708.20H892.83Z" fill="#fff"/>
<text class="t" transform="translate(100.09 1159.4) scale(1.055 1)">0</text>
<text class="t" transform="translate(74.14 1043.6) scale(1.055 1)">0.5</text>
<text class="t" transform="translate(100.09 928.1) scale(1.055 1)" dx="0.85">1</text><path d="M101.16,924.60H108.54V930.60H101.16ZM111.84,924.60H118.38V930.60H111.84Z" fill="#fff"/>
<text class="t" transform="translate(74.14 812.6) scale(1.055 1)">1.5</text><path d="M74.31,809.10H81.69V815.10H74.31ZM84.99,809.10H91.52V815.10H84.99Z" fill="#fff"/>
<text class="h" transform="translate(725.8 789.8) scale(0.983 1)">PA7</text>
<text class="h" transform="translate(32.7 922.4) rotate(-90) scale(0.960 1)" text-anchor="middle">A450</text>
</g>
<g>
<path d="M1100.0,732.2V1148.9M1257.8,732.2V1148.9M1415.5,732.2V1148.9M1573.2,732.2V1148.9M1731.0,732.2V1148.9M1025.0,1148.9H1731.0M1025.0,1044.8H1731.0M1025.0,940.6H1731.0M1025.0,836.5H1731.0" stroke="#D6D6D6" stroke-width="2.6" fill="none"/>
<circle cx="1051.7" cy="891.0" r="9.7" fill="#4472C4"/>
<circle cx="1099.2" cy="973.7" r="9.7" fill="#4472C4"/>
<circle cx="1146.7" cy="978.0" r="9.7" fill="#4472C4"/>
<circle cx="1194.2" cy="1068.4" r="9.7" fill="#4472C4"/>
<circle cx="1241.7" cy="1093.0" r="9.7" fill="#4472C4"/>
<circle cx="1289.1" cy="1126.3" r="9.7" fill="#4472C4"/>
<circle cx="1336.6" cy="1134.5" r="9.7" fill="#4472C4"/>
<circle cx="1384.1" cy="1142.0" r="9.7" fill="#4472C4"/>
<circle cx="1431.6" cy="1146.8" r="9.7" fill="#4472C4"/>
<circle cx="1479.1" cy="1147.7" r="9.7" fill="#4472C4"/>
<circle cx="1526.6" cy="1147.7" r="9.7" fill="#4472C4"/>
<circle cx="1574.1" cy="1148.1" r="9.7" fill="#4472C4"/>
<circle cx="1621.6" cy="1148.1" r="9.7" fill="#4472C4"/>
<circle cx="1669.0" cy="1147.7" r="9.7" fill="#4472C4"/>
<circle cx="1716.5" cy="1148.1" r="9.7" fill="#4472C4"/>
<circle cx="1051.7" cy="905.0" r="9.7" fill="#ED7D31"/>
<circle cx="1099.2" cy="994.0" r="9.7" fill="#ED7D31"/>
<circle cx="1146.7" cy="1050.8" r="9.7" fill="#ED7D31"/>
<circle cx="1194.2" cy="1107.7" r="9.7" fill="#ED7D31"/>
<circle cx="1241.7" cy="1123.8" r="9.7" fill="#ED7D31"/>
<circle cx="1289.1" cy="1136.4" r="9.7" fill="#ED7D31"/>
<circle cx="1336.6" cy="1142.7" r="9.7" fill="#ED7D31"/>
<circle cx="1384.1" cy="1145.4" r="9.7" fill="#ED7D31"/>
<circle cx="1431.6" cy="1147.5" r="9.7" fill="#ED7D31"/>
<circle cx="1479.1" cy="1148.0" r="9.7" fill="#ED7D31"/>
<circle cx="1526.6" cy="1148.0" r="9.7" fill="#ED7D31"/>
<circle cx="1574.1" cy="1148.5" r="9.7" fill="#ED7D31"/>
<circle cx="1621.6" cy="1148.5" r="9.7" fill="#ED7D31"/>
<circle cx="1669.0" cy="1148.5" r="9.7" fill="#ED7D31"/>
<circle cx="1716.5" cy="1148.5" r="9.7" fill="#ED7D31"/>
<circle cx="1051.7" cy="769.2" r="9.7" fill="#7F7F7F"/>
<circle cx="1099.2" cy="839.5" r="9.7" fill="#7F7F7F"/>
<circle cx="1146.7" cy="920.7" r="9.7" fill="#7F7F7F"/>
<circle cx="1194.2" cy="1010.5" r="9.7" fill="#7F7F7F"/>
<circle cx="1241.7" cy="1073.0" r="9.7" fill="#7F7F7F"/>
<circle cx="1289.1" cy="1110.6" r="9.7" fill="#7F7F7F"/>
<circle cx="1336.6" cy="1133.0" r="9.7" fill="#7F7F7F"/>
<circle cx="1384.1" cy="1143.2" r="9.7" fill="#7F7F7F"/>
<circle cx="1431.6" cy="1146.6" r="9.7" fill="#7F7F7F"/>
<circle cx="1479.1" cy="1147.7" r="9.7" fill="#7F7F7F"/>
<circle cx="1526.6" cy="1147.7" r="9.7" fill="#7F7F7F"/>
<circle cx="1574.1" cy="1148.1" r="9.7" fill="#7F7F7F"/>
<circle cx="1621.6" cy="1148.1" r="9.7" fill="#7F7F7F"/>
<circle cx="1669.0" cy="1147.7" r="9.7" fill="#7F7F7F"/>
<circle cx="1716.5" cy="1148.1" r="9.7" fill="#7F7F7F"/>
<path d="M1054.4,885.7 L1057.4,890.3 L1060.5,894.7 L1063.5,899.2 L1066.5,903.6 L1069.5,908.0 L1072.6,912.4 L1075.6,916.7 L1078.6,921.0 L1081.6,925.2 L1084.7,929.4 L1087.7,933.6 L1090.7,937.7 L1093.7,941.8 L1096.8,945.9 L1099.8,949.9 L1102.8,953.9 L1105.8,957.8 L1108.9,961.7 L1111.9,965.5 L1114.9,969.3 L1117.9,973.1 L1121.0,976.7 L1124.0,980.4 L1127.0,984.0 L1130.0,987.6 L1133.1,991.1 L1136.1,994.5 L1139.1,997.9 L1142.1,1001.3 L1145.2,1004.6 L1148.2,1007.8 L1151.2,1011.0 L1154.2,1014.2 L1157.3,1017.3 L1160.3,1020.4 L1163.3,1023.4 L1166.3,1026.3 L1169.4,1029.2 L1172.4,1032.1 L1175.4,1034.9 L1178.4,1037.6 L1181.5,1040.3 L1184.5,1043.0 L1187.5,1045.6 L1190.6,1048.2 L1193.6,1050.7 L1196.6,1053.1 L1199.6,1055.6 L1202.7,1057.9 L1205.7,1060.3 L1208.7,1062.5 L1211.7,1064.8 L1214.8,1066.9 L1217.8,1069.1 L1220.8,1071.2 L1223.8,1073.2 L1226.9,1075.2 L1229.9,1077.2 L1232.9,1079.1 L1235.9,1081.0 L1239.0,1082.9 L1242.0,1084.7 L1245.0,1086.4 L1248.0,1088.1 L1251.1,1089.8 L1254.1,1091.5 L1257.1,1093.1 L1260.1,1094.7 L1263.2,1096.2 L1266.2,1097.7 L1269.2,1099.2 L1272.2,1100.6 L1275.3,1102.0 L1278.3,1103.3 L1281.3,1104.7 L1284.3,1106.0 L1287.4,1107.2 L1290.4,1108.5 L1293.4,1109.7 L1296.4,1110.9 L1299.5,1112.0 L1302.5,1113.1 L1305.5,1114.2 L1308.5,1115.3 L1311.6,1116.3 L1314.6,1117.3 L1317.6,1118.3 L1320.7,1119.3 L1323.7,1120.2 L1326.7,1121.1 L1329.7,1122.0 L1332.8,1122.9 L1335.8,1123.7 L1338.8,1124.5 L1341.8,1125.3 L1344.9,1126.1 L1347.9,1126.9 L1350.9,1127.6 L1353.9,1128.3 L1357.0,1129.0 L1360.0,1129.7 L1363.0,1130.4 L1366.0,1131.0 L1369.1,1131.7 L1372.1,1132.3 L1375.1,1132.9 L1378.1,1133.4 L1381.2,1134.0 L1384.2,1134.6 L1387.2,1135.1 L1390.2,1135.6 L1393.3,1136.1 L1396.3,1136.6 L1399.3,1137.1 L1402.3,1137.5 L1405.4,1138.0 L1408.4,1138.4 L1411.4,1138.9 L1414.4,1139.3 L1417.5,1139.7 L1420.5,1140.1 L1423.5,1140.4 L1426.5,1140.8 L1429.6,1141.2 L1432.6,1141.5 L1435.6,1141.9 L1438.6,1142.2 L1441.7,1142.5 L1444.7,1142.8 L1447.7,1143.1 L1450.7,1143.4 L1453.8,1143.7 L1456.8,1144.0 L1459.8,1144.2 L1462.9,1144.5 L1465.9,1144.7 L1468.9,1145.0 L1471.9,1145.2 L1475.0,1145.4 L1478.0,1145.6 L1481.0,1145.9 L1484.0,1146.1 L1487.1,1146.3 L1490.1,1146.5 L1493.1,1146.6 L1496.1,1146.8 L1499.2,1147.0 L1502.2,1147.2 L1505.2,1147.3 L1508.2,1147.5 L1511.3,1147.6 L1514.3,1147.8 L1517.3,1147.9 L1520.3,1148.0 L1523.4,1148.2 L1526.4,1148.3 L1529.4,1148.4 L1532.4,1148.5 L1535.5,1148.6 L1538.5,1148.7 L1541.5,1148.8 L1544.5,1148.9 L1547.6,1149.0 L1550.6,1149.1 L1553.6,1149.2 L1556.6,1149.3 L1559.7,1149.3 L1562.7,1149.4 L1565.7,1149.5 L1568.7,1149.5 L1571.8,1149.6 L1574.8,1149.6 L1577.8,1149.7 L1580.8,1149.7 L1583.9,1149.8 L1586.9,1149.8 L1589.9,1149.8 L1593.0,1149.9 L1596.0,1149.9 L1599.0,1149.9 L1602.0,1149.9 L1605.1,1149.9 L1608.1,1150.0 L1611.1,1150.0 L1614.1,1150.0 L1617.2,1150.0 L1620.2,1150.0 L1623.2,1150.0 L1626.2,1150.0 L1629.3,1150.0 L1632.3,1149.9 L1635.3,1149.9 L1638.3,1149.9 L1641.4,1149.9 L1644.4,1149.9 L1647.4,1149.8 L1650.4,1149.8 L1653.5,1149.8 L1656.5,1149.7 L1659.5,1149.7 L1662.5,1149.7 L1665.6,1149.6 L1668.6,1149.6 L1671.6,1149.5 L1674.6,1149.5 L1677.7,1149.4 L1680.7,1149.4 L1683.7,1149.3 L1686.7,1149.2 L1689.8,1149.2 L1692.8,1149.1 L1695.8,1149.0 L1698.8,1149.0 L1701.9,1148.9 L1704.9,1148.8 L1707.9,1148.8 L1710.9,1148.7 L1714.0,1148.6 L1717.0,1148.5" stroke="#2F5597" stroke-width="5.0" fill="none" stroke-linejoin="round"/>
<path d="M1052.0,769.1 L1055.0,775.6 L1058.1,782.0 L1061.1,788.4 L1064.1,794.8 L1067.2,801.1 L1070.2,807.4 L1073.3,813.7 L1076.3,819.9 L1079.3,826.0 L1082.4,832.1 L1085.4,838.1 L1088.4,844.1 L1091.5,850.1 L1094.5,856.0 L1097.5,861.8 L1100.6,867.6 L1103.6,873.3 L1106.7,878.9 L1109.7,884.5 L1112.7,890.1 L1115.8,895.5 L1118.8,900.9 L1121.8,906.3 L1124.9,911.5 L1127.9,916.7 L1130.9,921.9 L1134.0,926.9 L1137.0,931.9 L1140.1,936.9 L1143.1,941.7 L1146.1,946.5 L1149.2,951.2 L1152.2,955.8 L1155.2,960.4 L1158.3,964.9 L1161.3,969.3 L1164.4,973.7 L1167.4,977.9 L1170.4,982.1 L1173.5,986.3 L1176.5,990.3 L1179.5,994.3 L1182.6,998.2 L1185.6,1002.1 L1188.6,1005.8 L1191.7,1009.5 L1194.7,1013.1 L1197.8,1016.7 L1200.8,1020.2 L1203.8,1023.6 L1206.9,1026.9 L1209.9,1030.2 L1212.9,1033.4 L1216.0,1036.5 L1219.0,1039.6 L1222.0,1042.6 L1225.1,1045.5 L1228.1,1048.4 L1231.2,1051.2 L1234.2,1054.0 L1237.2,1056.6 L1240.3,1059.3 L1243.3,1061.8 L1246.3,1064.3 L1249.4,1066.8 L1252.4,1069.2 L1255.4,1071.5 L1258.5,1073.7 L1261.5,1076.0 L1264.6,1078.1 L1267.6,1080.2 L1270.6,1082.3 L1273.7,1084.3 L1276.7,1086.2 L1279.7,1088.1 L1282.8,1090.0 L1285.8,1091.8 L1288.8,1093.5 L1291.9,1095.3 L1294.9,1096.9 L1298.0,1098.5 L1301.0,1100.1 L1304.0,1101.7 L1307.1,1103.2 L1310.1,1104.6 L1313.1,1106.0 L1316.2,1107.4 L1319.2,1108.7 L1322.3,1110.0 L1325.3,1111.3 L1328.3,1112.5 L1331.4,1113.7 L1334.4,1114.9 L1337.4,1116.0 L1340.5,1117.1 L1343.5,1118.2 L1346.5,1119.2 L1349.6,1120.3 L1352.6,1121.2 L1355.7,1122.2 L1358.7,1123.1 L1361.7,1124.0 L1364.8,1124.9 L1367.8,1125.7 L1370.8,1126.5 L1373.9,1127.3 L1376.9,1128.1 L1379.9,1128.9 L1383.0,1129.6 L1386.0,1130.3 L1389.1,1131.0 L1392.1,1131.7 L1395.1,1132.3 L1398.2,1132.9 L1401.2,1133.5 L1404.2,1134.1 L1407.3,1134.7 L1410.3,1135.2 L1413.3,1135.8 L1416.4,1136.3 L1419.4,1136.8 L1422.5,1137.3 L1425.5,1137.8 L1428.5,1138.2 L1431.6,1138.7 L1434.6,1139.1 L1437.6,1139.5 L1440.7,1139.9 L1443.7,1140.3 L1446.7,1140.7 L1449.8,1141.1 L1452.8,1141.4 L1455.9,1141.7 L1458.9,1142.1 L1461.9,1142.4 L1465.0,1142.7 L1468.0,1143.0 L1471.0,1143.3 L1474.1,1143.6 L1477.1,1143.8 L1480.2,1144.1 L1483.2,1144.3 L1486.2,1144.6 L1489.3,1144.8 L1492.3,1145.0 L1495.3,1145.2 L1498.4,1145.5 L1501.4,1145.6 L1504.4,1145.8 L1507.5,1146.0 L1510.5,1146.2 L1513.6,1146.4 L1516.6,1146.5 L1519.6,1146.7 L1522.7,1146.8 L1525.7,1147.0 L1528.7,1147.1 L1531.8,1147.2 L1534.8,1147.3 L1537.8,1147.5 L1540.9,1147.6 L1543.9,1147.7 L1547.0,1147.8 L1550.0,1147.8 L1553.0,1147.9 L1556.1,1148.0 L1559.1,1148.1 L1562.1,1148.1 L1565.2,1148.2 L1568.2,1148.3 L1571.2,1148.3 L1574.3,1148.4 L1577.3,1148.4 L1580.4,1148.4 L1583.4,1148.5 L1586.4,1148.5 L1589.5,1148.5 L1592.5,1148.5 L1595.5,1148.5 L1598.6,1148.5 L1601.6,1148.5 L1604.6,1148.5 L1607.7,1148.5 L1610.7,1148.5 L1613.8,1148.5 L1616.8,1148.5 L1619.8,1148.5 L1622.9,1148.4 L1625.9,1148.4 L1628.9,1148.4 L1632.0,1148.3 L1635.0,1148.3 L1638.1,1148.2 L1641.1,1148.1 L1644.1,1148.1 L1647.2,1148.0 L1650.2,1148.0 L1653.2,1147.9 L1656.3,1147.8 L1659.3,1147.7 L1662.3,1147.6 L1665.4,1147.5 L1668.4,1147.5 L1671.5,1147.4 L1674.5,1147.3 L1677.5,1147.1 L1680.6,1147.0 L1683.6,1146.9 L1686.6,1146.8 L1689.7,1146.7 L1692.7,1146.6 L1695.7,1146.4 L1698.8,1146.3 L1701.8,1146.2 L1704.9,1146.0 L1707.9,1145.9 L1710.9,1145.8 L1714.0,1145.6 L1717.0,1145.5" stroke="#7F7F7F" stroke-width="5.0" fill="none" stroke-linejoin="round"/>
<path d="M1052.6,907.2 L1055.7,916.4 L1058.7,925.2 L1061.8,933.5 L1064.8,941.5 L1067.9,949.0 L1070.9,956.2 L1074.0,963.1 L1077.0,969.6 L1080.1,975.9 L1083.1,981.9 L1086.2,987.6 L1089.2,993.0 L1092.3,998.2 L1095.3,1003.2 L1098.4,1008.0 L1101.4,1012.5 L1104.5,1016.9 L1107.5,1021.1 L1110.6,1025.1 L1113.6,1029.0 L1116.7,1032.7 L1119.7,1036.3 L1122.8,1039.7 L1125.8,1043.0 L1128.9,1046.2 L1132.0,1049.2 L1135.0,1052.2 L1138.1,1055.0 L1141.1,1057.7 L1144.2,1060.4 L1147.2,1062.9 L1150.3,1065.3 L1153.3,1067.7 L1156.4,1070.0 L1159.4,1072.2 L1162.5,1074.3 L1165.5,1076.4 L1168.6,1078.4 L1171.6,1080.3 L1174.7,1082.2 L1177.7,1084.0 L1180.8,1085.7 L1183.8,1087.4 L1186.9,1089.1 L1189.9,1090.7 L1193.0,1092.2 L1196.0,1093.7 L1199.1,1095.2 L1202.2,1096.6 L1205.2,1097.9 L1208.3,1099.3 L1211.3,1100.6 L1214.4,1101.8 L1217.4,1103.0 L1220.5,1104.2 L1223.5,1105.4 L1226.6,1106.5 L1229.6,1107.6 L1232.7,1108.6 L1235.7,1109.7 L1238.8,1110.7 L1241.8,1111.7 L1244.9,1112.6 L1247.9,1113.5 L1251.0,1114.4 L1254.0,1115.3 L1257.1,1116.2 L1260.1,1117.0 L1263.2,1117.8 L1266.2,1118.6 L1269.3,1119.4 L1272.3,1120.1 L1275.4,1120.9 L1278.5,1121.6 L1281.5,1122.3 L1284.6,1123.0 L1287.6,1123.6 L1290.7,1124.3 L1293.7,1124.9 L1296.8,1125.5 L1299.8,1126.1 L1302.9,1126.7 L1305.9,1127.3 L1309.0,1127.9 L1312.0,1128.4 L1315.1,1129.0 L1318.1,1129.5 L1321.2,1130.0 L1324.2,1130.5 L1327.3,1131.0 L1330.3,1131.4 L1333.4,1131.9 L1336.4,1132.4 L1339.5,1132.8 L1342.5,1133.2 L1345.6,1133.7 L1348.6,1134.1 L1351.7,1134.5 L1354.8,1134.9 L1357.8,1135.2 L1360.9,1135.6 L1363.9,1136.0 L1367.0,1136.3 L1370.0,1136.7 L1373.1,1137.0 L1376.1,1137.4 L1379.2,1137.7 L1382.2,1138.0 L1385.3,1138.3 L1388.3,1138.6 L1391.4,1138.9 L1394.4,1139.2 L1397.5,1139.5 L1400.5,1139.8 L1403.6,1140.0 L1406.6,1140.3 L1409.7,1140.5 L1412.7,1140.8 L1415.8,1141.0 L1418.8,1141.3 L1421.9,1141.5 L1425.0,1141.7 L1428.0,1141.9 L1431.1,1142.2 L1434.1,1142.4 L1437.2,1142.6 L1440.2,1142.8 L1443.3,1143.0 L1446.3,1143.2 L1449.4,1143.3 L1452.4,1143.5 L1455.5,1143.7 L1458.5,1143.9 L1461.6,1144.0 L1464.6,1144.2 L1467.7,1144.3 L1470.7,1144.5 L1473.8,1144.6 L1476.8,1144.8 L1479.9,1144.9 L1482.9,1145.1 L1486.0,1145.2 L1489.0,1145.3 L1492.1,1145.4 L1495.1,1145.6 L1498.2,1145.7 L1501.3,1145.8 L1504.3,1145.9 L1507.4,1146.0 L1510.4,1146.1 L1513.5,1146.2 L1516.5,1146.3 L1519.6,1146.4 L1522.6,1146.5 L1525.7,1146.6 L1528.7,1146.7 L1531.8,1146.8 L1534.8,1146.8 L1537.9,1146.9 L1540.9,1147.0 L1544.0,1147.1 L1547.0,1147.1 L1550.1,1147.2 L1553.1,1147.2 L1556.2,1147.3 L1559.2,1147.4 L1562.3,1147.4 L1565.3,1147.5 L1568.4,1147.5 L1571.4,1147.6 L1574.5,1147.6 L1577.6,1147.7 L1580.6,1147.7 L1583.7,1147.8 L1586.7,1147.8 L1589.8,1147.9 L1592.8,1147.9 L1595.9,1147.9 L1598.9,1148.0 L1602.0,1148.0 L1605.0,1148.0 L1608.1,1148.1 L1611.1,1148.1 L1614.2,1148.1 L1617.2,1148.2 L1620.3,1148.2 L1623.3,1148.2 L1626.4,1148.2 L1629.4,1148.3 L1632.5,1148.3 L1635.5,1148.3 L1638.6,1148.3 L1641.6,1148.4 L1644.7,1148.4 L1647.8,1148.4 L1650.8,1148.4 L1653.9,1148.5 L1656.9,1148.5 L1660.0,1148.5 L1663.0,1148.5 L1666.1,1148.6 L1669.1,1148.6 L1672.2,1148.6 L1675.2,1148.7 L1678.3,1148.7 L1681.3,1148.7 L1684.4,1148.8 L1687.4,1148.8 L1690.5,1148.8 L1693.5,1148.9 L1696.6,1148.9 L1699.6,1149.0 L1702.7,1149.0 L1705.7,1149.1 L1708.8,1149.1 L1711.8,1149.2 L1714.9,1149.2 L1717.9,1149.3 L1721.0,1149.3" stroke="#ED7D31" stroke-width="5.0" fill="none" stroke-linejoin="round"/>
<path d="M1025.0,731.2V1149.9M1024.0,732.2H1732.0M1100.0,722.9V732.2M1257.8,722.9V732.2M1415.5,722.9V732.2M1573.2,722.9V732.2M1731.0,722.9V732.2M1015.3,1148.9H1025.0M1015.3,1044.8H1025.0M1015.3,940.6H1025.0M1015.3,836.5H1025.0M1015.3,732.2H1025.0" stroke="#000" stroke-width="2.7" fill="none"/>
<text class="t" transform="translate(1090.85 705.7) scale(1.055 1)" dx="0.85">1</text><path d="M1091.92,702.20H1099.30V708.20H1091.92ZM1102.60,702.20H1109.13V708.20H1102.60Z" fill="#fff"/>
<text class="t" transform="translate(1235.62 705.7) scale(1.055 1)" dx="0 0 0.95">0.1</text><path d="M1262.74,702.20H1270.12V708.20H1262.74ZM1273.43,702.20H1279.96V708.20H1273.43Z" fill="#fff"/>
<text class="t" transform="translate(1384.71 705.7) scale(1.055 1)" dx="0 0 0 0.95">0.01</text><path d="M1429.15,702.20H1436.53V708.20H1429.15ZM1439.83,702.20H1446.37V708.20H1439.83Z" fill="#fff"/>
<text class="t" transform="translate(1533.81 705.7) scale(1.055 1)" dx="0 0 0 0 0.95">0.001</text><path d="M1595.55,702.20H1602.93V708.20H1595.55ZM1606.23,702.20H1612.77V708.20H1606.23Z" fill="#fff"/>
<text class="t" transform="translate(1681.50 705.7) scale(1.055 1)" dx="0 0 0 0 0 3.22">0.0001</text><path d="M1762.95,702.20H1770.33V708.20H1762.95ZM1773.63,702.20H1780.17V708.20H1773.63Z" fill="#fff"/>
<text class="t" transform="translate(980.09 1159.5) scale(1.055 1)">0</text>
<text class="t" transform="translate(954.14 1055.4) scale(1.055 1)">0.2</text>
<text class="t" transform="translate(954.14 951.2) scale(1.055 1)">0.4</text>
<text class="t" transform="translate(954.14 847.1) scale(1.055 1)">0.6</text>
<text class="t" transform="translate(954.14 742.8) scale(1.055 1)">0.8</text>
<text class="h" transform="translate(1605.6 789.8) scale(0.983 1)">FR9</text>
</g>
<text class="g" x="286.6" y="32.6" textLength="416.2" lengthAdjust="spacingAndGlyphs">Antibody conc. (µg/ml)</text>
<text class="g" x="1166.6" y="32.6" textLength="416.2" lengthAdjust="spacingAndGlyphs">Antibody conc. (µg/ml)</text>
</svg></body></html>
